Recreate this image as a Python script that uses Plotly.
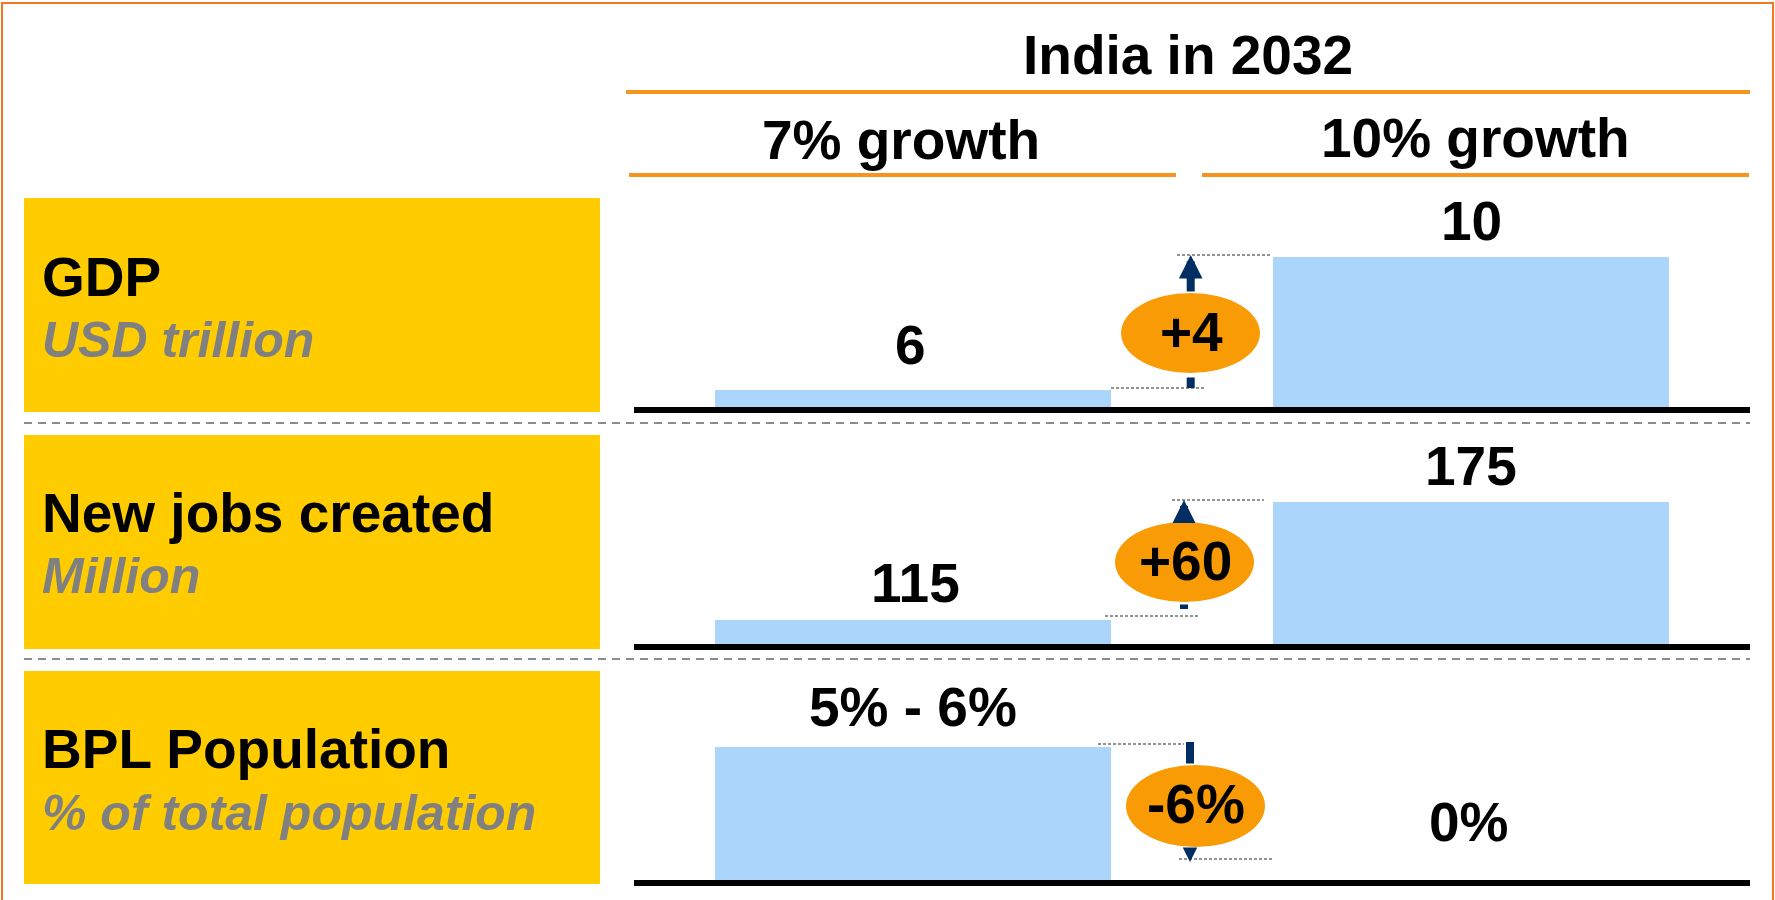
import plotly.graph_objects as go

# ---------------- data ----------------
header_title = "India in 2032"
scenarios = ["7% growth", "10% growth"]
metrics = ["GDP", "New jobs created", "BPL Population"]
units = ["USD trillion", "Million", "% of total population"]
gdp_values = [6, 10]
jobs_values = [115, 175]
bpl_values = [6, 0]
value_labels = [["6", "10"], ["115", "175"], ["5% - 6%", "0%"]]
delta_labels = ["+4", "+60", "-6%"]

# ---------------- style ----------------
W, H = 1775, 900
FONT = "Liberation Sans, Arial, sans-serif"
YELLOW = "#FFCC00"
BAR = "#ACD5FC"
BUBBLE = "#F99B05"
NAVY = "#002D62"
ORANGE_LINE = "#F7941E"
BORDER = "#F47721"
GREY_TEXT = "#808080"


def fx(p):
    return p / W


def fy(p):
    return 1 - p / H


panel_values = [gdp_values, jobs_values, bpl_values]
# axis ranges (broken value axes as in the source infographic)
y_ranges = [[5.4887, 12.015], [102.80, 206.53], [0, 9.474]]
y_dom_px = [(190, 407), (440, 644), (670, 880)]
x_dom_px = (634, 1750)
label_lift = [[45, 36], [37, 36], [40, 58]]
label_dx = [[-3, 0], [2, 0], [0, -2]]

fig = go.Figure()

for i, vals in enumerate(panel_values):
    n = "" if i == 0 else str(i + 1)
    fig.add_trace(go.Bar(
        x=scenarios, y=vals, width=0.71,
        marker=dict(color=BAR, line=dict(width=0)),
        xaxis="x" + n, yaxis="y" + n, hoverinfo="skip", showlegend=False,
    ))

layout = dict(
    width=W, height=H, margin=dict(l=0, r=0, t=0, b=0),
    paper_bgcolor="white", plot_bgcolor="rgba(0,0,0,0)",
    showlegend=False, bargap=0,
)
for i in range(3):
    n = "" if i == 0 else str(i + 1)
    layout["xaxis" + n] = dict(
        domain=[fx(x_dom_px[0]), fx(x_dom_px[1])], range=[-0.5, 1.5],
        type="category", anchor="y" + n, showgrid=False, zeroline=False,
        showticklabels=False, ticks="", showline=True, linewidth=6,
        linecolor="black", fixedrange=True,
    )
    layout["yaxis" + n] = dict(
        domain=[fy(y_dom_px[i][1]), fy(y_dom_px[i][0])], range=y_ranges[i],
        anchor="x" + n, showgrid=False, zeroline=False, showticklabels=False,
        ticks="", showline=False, fixedrange=True,
    )
fig.update_layout(**layout)

shapes = []
annotations = []

# outer orange frame
shapes.append(dict(type="rect", xref="paper", yref="paper",
                   x0=fx(2), x1=fx(1773), y0=-0.02, y1=fy(3),
                   line=dict(color=BORDER, width=2), fillcolor="rgba(0,0,0,0)", layer="above"))

# yellow label boxes
box_px = [(198, 412), (435, 649), (671, 884)]
for (t, b) in box_px:
    shapes.append(dict(type="rect", xref="paper", yref="paper",
                       x0=fx(24), x1=fx(600), y0=fy(b), y1=fy(t),
                       fillcolor=YELLOW, line=dict(width=0), layer="below"))

# dashed separators between rows
for yy in [423, 659]:
    shapes.append(dict(type="line", xref="paper", yref="paper",
                       x0=fx(24), x1=fx(1750), y0=fy(yy), y1=fy(yy),
                       line=dict(color="#8C8C8C", width=2, dash="8px,6px")))

# orange header rules
shapes.append(dict(type="line", xref="paper", yref="paper",
                   x0=fx(626), x1=fx(1750), y0=fy(92), y1=fy(92),
                   line=dict(color=ORANGE_LINE, width=4)))
shapes.append(dict(type="line", xref="paper", yref="paper",
                   x0=fx(629), x1=fx(1176), y0=fy(175), y1=fy(175),
                   line=dict(color=ORANGE_LINE, width=4)))
shapes.append(dict(type="line", xref="paper", yref="paper",
                   x0=fx(1202), x1=fx(1749), y0=fy(175), y1=fy(175),
                   line=dict(color=ORANGE_LINE, width=4)))

# header texts
annotations.append(dict(text="<b>" + header_title + "</b>", xref="paper", yref="paper",
                        x=fx(1188), y=fy(55.5), xanchor="center", yanchor="middle",
                        showarrow=False, font=dict(family=FONT, size=55, color="black")))
for name, cx, cy in zip(scenarios, [901, 1475], [140, 138]):
    annotations.append(dict(text="<b>" + name + "</b>", xref="paper", yref="paper",
                            x=fx(cx), y=fy(cy), xanchor="center", yanchor="middle",
                            showarrow=False, font=dict(family=FONT, size=55, color="black")))

# left labels
metric_cy = [276.5, 512.5, 749]
unit_cy = [340, 575.5, 812.5]
for m, u, my, uy in zip(metrics, units, metric_cy, unit_cy):
    annotations.append(dict(text="<b>" + m + "</b>", xref="paper", yref="paper",
                            x=fx(40), y=fy(my), xanchor="left", yanchor="middle",
                            showarrow=False, font=dict(family=FONT, size=55, color="black")))
    annotations.append(dict(text="<b><i>" + u + "</i></b>", xref="paper", yref="paper",
                            x=fx(40), y=fy(uy), xanchor="left", yanchor="middle",
                            showarrow=False, font=dict(family=FONT, size=50, color=GREY_TEXT)))

# value labels above bars
for i, vals in enumerate(panel_values):
    n = "" if i == 0 else str(i + 1)
    for j, v in enumerate(vals):
        annotations.append(dict(text="<b>" + value_labels[i][j] + "</b>",
                                xref="x" + n, yref="y" + n, x=j, y=v,
                                xshift=label_dx[i][j], yshift=label_lift[i][j],
                                xanchor="center", yanchor="middle", showarrow=False,
                                font=dict(family=FONT, size=55, color="black")))

# delta bubbles, guide lines and arrows
bubble_dx = [-1.5, -7.5, 3.5]
bubble_dy = [-9.5, -1, 7.5]
bubble_half_h = [40, 40, 41]
text_shift = [(-1, -8.5), (-6.5, 0), (4, 9.5)]
arrow_dx = [-1.3, -8, -2]
# guide dashed lines: (x0, x1, dy) pixel offsets for each bar level
guides = [
    [(-81, 12, 2), (-15, 78, 2)],
    [(-87, 6, 4), (-20, 72, 2)],
    [(-94, -8, 3), (-13, 80, 21)],
]
for i, vals in enumerate(panel_values):
    n = "" if i == 0 else str(i + 1)
    xr, yr = "x" + n, "y" + n
    mid = (vals[0] + vals[1]) / 2
    for j in range(2):
        gx0, gx1, gdy = guides[i][j]
        shapes.append(dict(type="line", xref=xr, yref=yr,
                           xsizemode="pixel", xanchor=0.5, x0=gx0, x1=gx1,
                           ysizemode="pixel", yanchor=vals[j], y0=gdy, y1=gdy,
                           line=dict(color="#707070", width=1.5, dash="3px,2px"),
                           layer="above"))
    shapes.append(dict(type="circle", xref=xr, yref=yr,
                       xsizemode="pixel", xanchor=0.5,
                       x0=bubble_dx[i] - 69.5, x1=bubble_dx[i] + 69.5,
                       ysizemode="pixel", yanchor=mid,
                       y0=bubble_dy[i] - bubble_half_h[i], y1=bubble_dy[i] + bubble_half_h[i],
                       fillcolor=BUBBLE, line=dict(width=0), layer="above"))
    annotations.append(dict(text="<b>" + delta_labels[i] + "</b>", xref=xr, yref=yr,
                            x=0.5, y=mid, xshift=text_shift[i][0], yshift=text_shift[i][1],
                            xanchor="center", yanchor="middle", showarrow=False,
                            font=dict(family=FONT, size=55, color="black")))

arrow_specs = [
    # (panel, value index, yshift, ay, head, width, size)
    (0, 1, 2, 38, 2, 8, 0.59),
    (0, 0, 2, -12, 0, 8, 1),
    (1, 1, 2, 22, 2, 8, 0.575),
    (1, 0, 11, -6, 0, 8, 1),
    (2, 0, 5, 23, 0, 8, 1),
    (2, 1, 18, -15, 2, 3, 0.97),
]
for (i, j, ysh, ay, head, aw, asz) in arrow_specs:
    n = "" if i == 0 else str(i + 1)
    annotations.append(dict(text="", xref="x" + n, yref="y" + n, x=0.5,
                            y=panel_values[i][j], xshift=arrow_dx[i], yshift=ysh,
                            showarrow=True, ax=0, ay=ay, arrowhead=head,
                            arrowwidth=aw, arrowsize=asz, arrowcolor=NAVY,
                            standoff=0, startstandoff=0, font=dict(size=1)))

fig.update_layout(shapes=shapes, annotations=annotations)

fig.write_html("out.html",
               config={"displayModeBar": False, "staticPlot": False},
               post_script="document.body.style.margin='0px';document.body.style.overflow='hidden';")
